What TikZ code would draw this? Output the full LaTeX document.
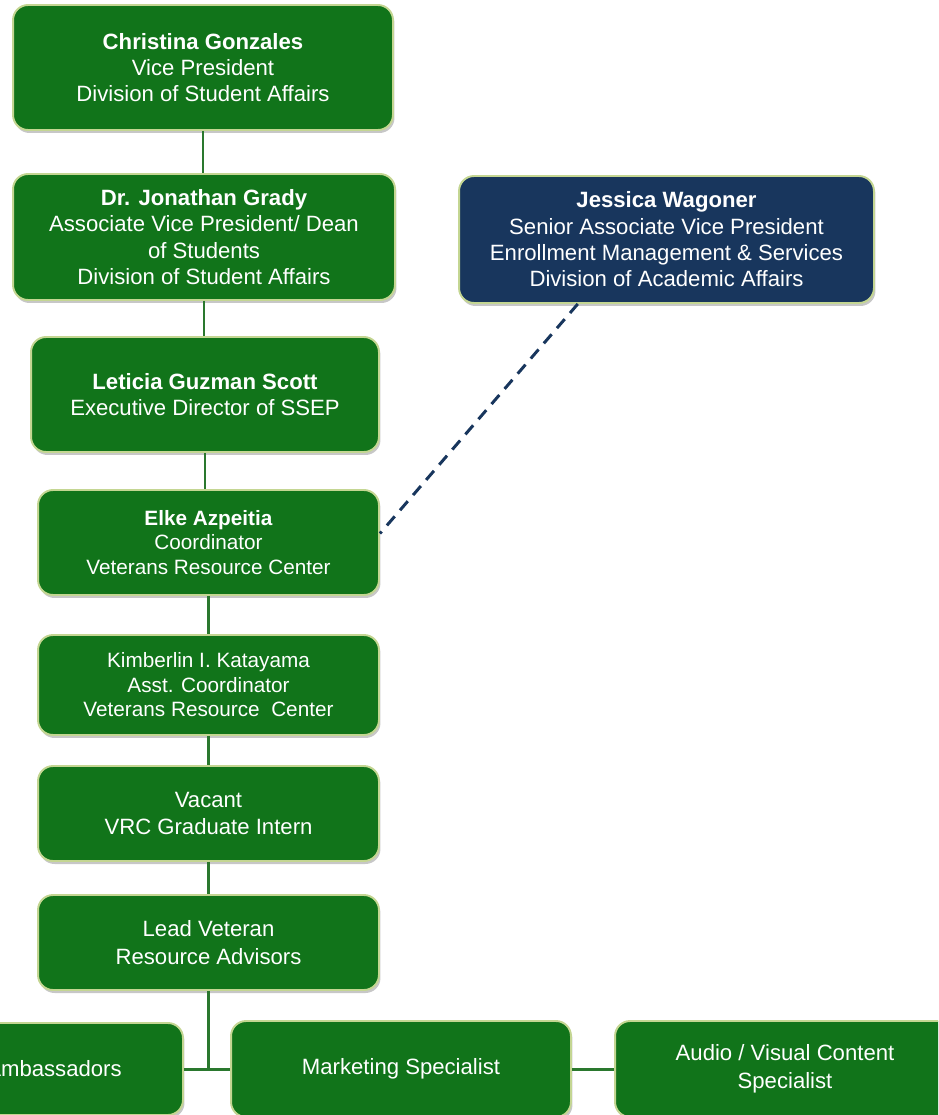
\documentclass[tikz,border=0pt]{standalone}
\usepackage{fontspec}
\setmainfont{Liberation Sans}
\usetikzlibrary{shadows}

\definecolor{vrcgreen}{RGB}{17,116,26}
\definecolor{edgegreen}{RGB}{196,214,146}
\definecolor{linegreen}{RGB}{42,120,46}
\definecolor{acadblue}{RGB}{24,54,93}

\tikzset{
  unit/.style={draw=edgegreen, line width=1.1pt, fill=vrcgreen, rounded corners=0.3cm,
    text=white, align=center, inner sep=0pt, font=\fontsize{12.6}{15}\selectfont,
    drop shadow={shadow xshift=0.03cm, shadow yshift=-0.06cm, fill=black, opacity=0.22}},
  acad/.style={unit, fill=acadblue},
  smalltext/.style={font=\fontsize{11.8}{13.9}\selectfont},
  widetext/.style={font=\fontsize{12.6}{15.8}\selectfont},
  link/.style={draw=linegreen, line width=1.7pt},
  dashlink/.style={draw=acadblue, line width=1.7pt, dash pattern=on 6.8pt off 4.6pt}
}

\begin{document}
\begin{tikzpicture}[x=0.02cm, y=-0.02cm]
    \useasboundingbox (0,0) rectangle (938,1115);
    \clip (0,0) rectangle (938,1115);

    % Main column
    \node[unit, minimum width=7.6cm, minimum height=2.5cm] (christina) at (203,67.5)
        {\textbf{Christina Gonzales}\\Vice President\\Division of Student Affairs};
    \node[unit, minimum width=7.64cm, minimum height=2.52cm] (grady) at (204,237)
        {\textbf{Dr. Jonathan Grady}\\Associate Vice President/ Dean\\of Students\\Division of Student Affairs};
    \node[unit, minimum width=6.96cm, minimum height=2.3cm] (leticia) at (205,394.5)
        {\textbf{Leticia Guzman Scott}\\Executive Director of SSEP};
    \node[unit, smalltext, minimum width=6.82cm, minimum height=2.1cm] (elke) at (208.5,542.5)
        {\textbf{Elke Azpeitia}\\Coordinator\\Veterans Resource Center};
    \node[unit, smalltext, minimum width=6.82cm, minimum height=2cm] (kimberlin) at (208.5,685)
        {Kimberlin I. Katayama\\Asst. Coordinator\\Veterans Resource~ Center};
    \node[unit, widetext, minimum width=6.82cm, minimum height=1.9cm] (vacant) at (208.5,813.5)
        {Vacant\\VRC Graduate Intern};
    \node[unit, widetext, minimum width=6.82cm, minimum height=1.9cm] (lead) at (208.5,942.5)
        {Lead Veteran\\Resource Advisors};

    % Academic Affairs
    \node[acad, minimum width=8.3cm, minimum height=2.54cm] (jessica) at (666.5,239.5)
        {\textbf{Jessica Wagoner}\\Senior Associate Vice President\\Enrollment Management \& Services\\Division of Academic Affairs};

    % Bottom row
    \node[unit, widetext, minimum width=5.16cm, minimum height=1.84cm] (ambassadors) at (54,1069)
        {Ambassadors};
    \node[unit, widetext, minimum width=6.8cm, minimum height=1.92cm] (marketing) at (401,1069)
        {Marketing Specialist};
    \node[unit, widetext, minimum width=6.8cm, minimum height=1.92cm] (audio) at (785,1069)
        {Audio / Visual Content\\Specialist};

    % Connectors
    \draw[link] (christina.south) -- (christina.south |- grady.north);
    \draw[link] (grady.south) -- (grady.south |- leticia.north);
    \draw[link] (leticia.south) -- (leticia.south |- elke.north);
    \draw[link] (elke.south) -- (elke.south |- kimberlin.north);
    \draw[link] (kimberlin.south) -- (kimberlin.south |- vacant.north);
    \draw[link] (vacant.south) -- (vacant.south |- lead.north);
    \draw[link] (lead.south) -- (lead.south |- marketing.west);
    \draw[link] (ambassadors.east) -- (marketing.west);
    \draw[link] (marketing.east) -- (audio.west);

    % Dotted-line report
    \draw[dashlink] (jessica.216) -- (elke.3);
\end{tikzpicture}
\end{document}
